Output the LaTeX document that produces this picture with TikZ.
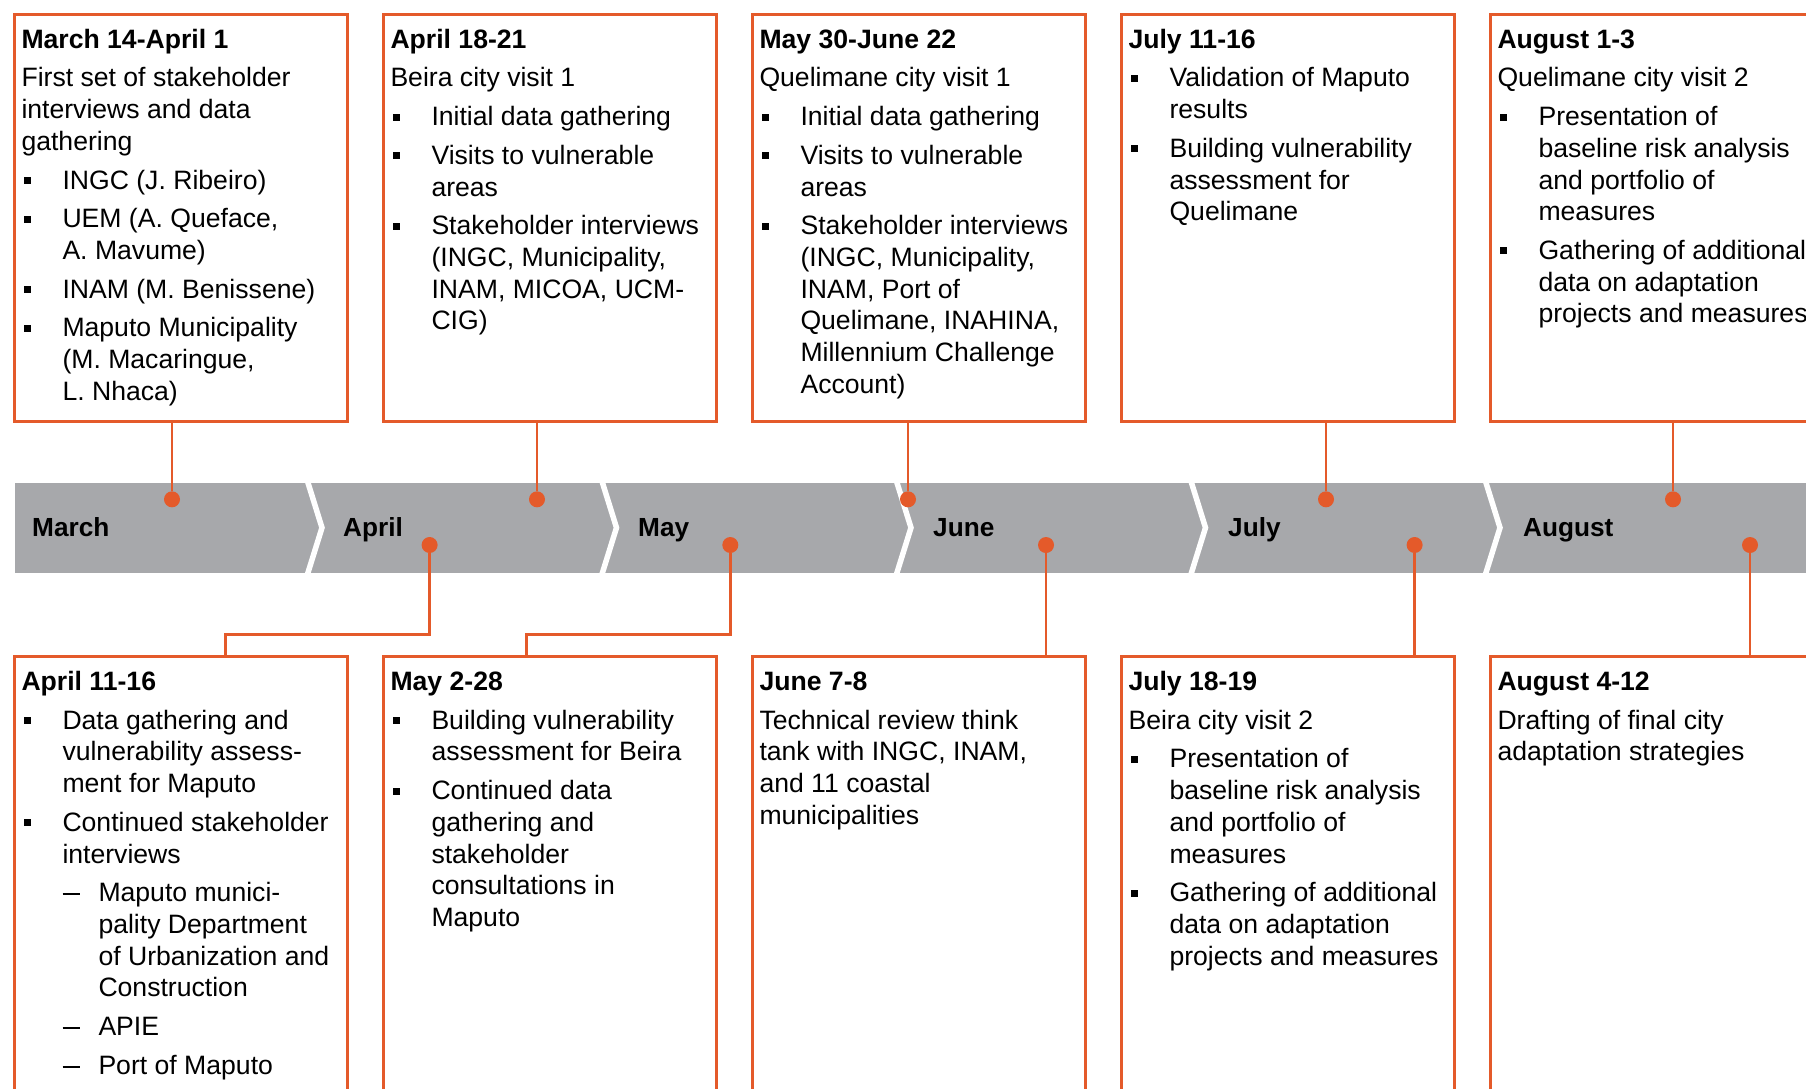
\documentclass[tikz,border=0pt]{standalone}
\usepackage{fontspec}
\setmainfont{Liberation Sans}
\definecolor{orng}{RGB}{228,90,42}
\definecolor{bandgray}{RGB}{167,168,171}
\newcommand{\ttl}[1]{\rule{0pt}{20pt}\textbf{#1}}
\newcommand{\mypara}{\par\vspace{7pt}}
\newcommand{\mybul}{\mypara\hangindent=41pt\hangafter=1\noindent\makebox[41pt][l]{\hspace{2pt}\rule[5pt]{7pt}{7pt}}}
\newcommand{\mysub}{\mypara\hangindent=77pt\hangafter=1\noindent\makebox[77pt][l]{\hspace{41pt}\rule[6.7pt]{17pt}{2pt}}}
\newcommand{\boxtext}[1]{\begin{minipage}[t]{400pt}\fontsize{26.6}{31.7}\selectfont\parskip=0pt\parindent=0pt\frenchspacing #1\end{minipage}}
\begin{document}
\begin{tikzpicture}[x=1pt,y=-1pt,
  evbox/.style={draw=orng, line width=3pt, fill=white, anchor=north west, minimum width=333.5pt, inner sep=0pt},
  topbox/.style={evbox, minimum height=406.7pt},
  botbox/.style={evbox, minimum height=445pt},
  txt/.style={anchor=north west, inner sep=0pt, outer sep=0pt},
  dot/.style={circle, fill=orng, minimum size=16pt, inner sep=0pt},
  conn/.style={draw=orng, line width=2.7pt},
  month/.style={anchor=base west, inner sep=0pt, font=\fontsize{26.2}{31.7}\selectfont\bfseries}]
\clip (0,0) rectangle (1806,1088);
\fill[white] (0,0) rectangle (1806,1088);
% band
\fill[bandgray] (15,482.7) rectangle (1810,572.7);
\begin{scope}
\clip (15,482.7) rectangle (1810,572.7);
\foreach \cx in {308,602.5,897,1191.5,1486}{
  \draw[white, line width=5.5pt] (\cx-1.6,477.7) -- (\cx+14,527.7) -- (\cx-1.6,577.7);
}
\end{scope}
\node[month] (mMar) at (32,536) {March};
\node[month] (mApr) at (343,536) {April};
\node[month] (mMay) at (638,536) {May};
\node[month] (mJun) at (933,536) {June};
\node[month] (mJul) at (1228,536) {July};
\node[month] (mAug) at (1523,536) {August};
% boxes
\node[topbox] (t1) at (12.5,13) {};
\node[topbox] (t2) at (381.5,13) {};
\node[topbox] (t3) at (750.5,13) {};
\node[topbox] (t4) at (1119.5,13) {};
\node[topbox] (t5) at (1488.5,13) {};
\node[botbox] (b1) at (12.5,655) {};
\node[botbox] (b2) at (381.5,655) {};
\node[botbox] (b3) at (750.5,655) {};
\node[botbox] (b4) at (1119.5,655) {};
\node[botbox] (b5) at (1488.5,655) {};
% dots
\node[dot] (d1) at (172,499.3) {};
\node[dot] (d2) at (537,499.3) {};
\node[dot] (d3) at (908,499.3) {};
\node[dot] (d4) at (1326,499.3) {};
\node[dot] (d5) at (1673,499.3) {};
\node[dot] (d6) at (429.6,545) {};
\node[dot] (d7) at (730.3,545) {};
\node[dot] (d8) at (1046,545) {};
\node[dot] (d9) at (1414.6,545) {};
\node[dot] (d10) at (1750,545) {};
\coordinate (e1) at (225.4,634.3);
\coordinate (e2) at (526.8,634.3);
% connectors
\draw[conn] (t1.south -| d1) -- (d1);
\draw[conn] (t2.south -| d2) -- (d2);
\draw[conn] (t3.south -| d3) -- (d3);
\draw[conn] (t4.south -| d4) -- (d4);
\draw[conn] (t5.south -| d5) -- (d5);
\draw[conn] (d6) |- (e1) -- (e1 |- b1.north);
\draw[conn] (d7) |- (e2) -- (e2 |- b2.north);
\draw[conn] (d8) -- (d8 |- b3.north);
\draw[conn] (d9) -- (d9 |- b4.north);
\draw[conn] (d10) -- (d10 |- b5.north);
% top texts
\node[txt] (t1x) at (21.5,28.2) {\boxtext{\ttl{March 14-April 1}\mypara First set of stakeholder\\interviews and data\\gathering\mybul INGC (J. Ribeiro)\mybul UEM (A. Queface,\\A. Mavume)\mybul INAM (M. Benissene)\mybul Maputo Municipality\\(M. Macaringue,\\L. Nhaca)}};
\node[txt] (t2x) at (390.5,28.2) {\boxtext{\ttl{April 18-21}\mypara Beira city visit 1\mybul Initial data gathering\mybul Visits to vulnerable\\areas\mybul Stakeholder interviews\\(INGC, Municipality,\\INAM, MICOA, UCM-\\CIG)}};
\node[txt] (t3x) at (759.5,28.2) {\boxtext{\ttl{May 30-June 22}\mypara Quelimane city visit 1\mybul Initial data gathering\mybul Visits to vulnerable\\areas\mybul Stakeholder interviews\\(INGC, Municipality,\\INAM, Port of\\Quelimane, INAHINA,\\Millennium Challenge\\Account)}};
\node[txt] (t4x) at (1128.5,28.2) {\boxtext{\ttl{July 11-16}\mybul Validation of Maputo\\results\mybul Building vulnerability\\assessment for\\Quelimane}};
\node[txt] (t5x) at (1497.5,28.2) {\boxtext{\ttl{August 1-3}\mypara Quelimane city visit 2\mybul Presentation of\\baseline risk analysis\\and portfolio of\\measures\mybul Gathering of additional\\data on adaptation\\projects and measures}};
% bottom texts
\node[txt] (b1x) at (21.5,670.5) {\boxtext{\ttl{April 11-16}\mybul Data gathering and\\vulnerability assess-\\ment for Maputo\mybul Continued stakeholder\\interviews\mysub Maputo munici-\\pality Department\\of Urbanization and\\Construction\mysub APIE\mysub Port of Maputo}};
\node[txt] (b2x) at (390.5,670.5) {\boxtext{\ttl{May 2-28}\mybul Building vulnerability\\assessment for Beira\mybul Continued data\\gathering and\\stakeholder\\consultations in\\Maputo}};
\node[txt] (b3x) at (759.5,670.5) {\boxtext{\ttl{June 7-8}\mypara Technical review think\\tank with INGC, INAM,\\and 11 coastal\\municipalities}};
\node[txt] (b4x) at (1128.5,670.5) {\boxtext{\ttl{July 18-19}\mypara Beira city visit 2\mybul Presentation of\\baseline risk analysis\\and portfolio of\\measures\mybul Gathering of additional\\data on adaptation\\projects and measures}};
\node[txt] (b5x) at (1497.5,670.5) {\boxtext{\ttl{August 4-12}\mypara Drafting of final city\\adaptation strategies}};
\end{tikzpicture}
\end{document}
